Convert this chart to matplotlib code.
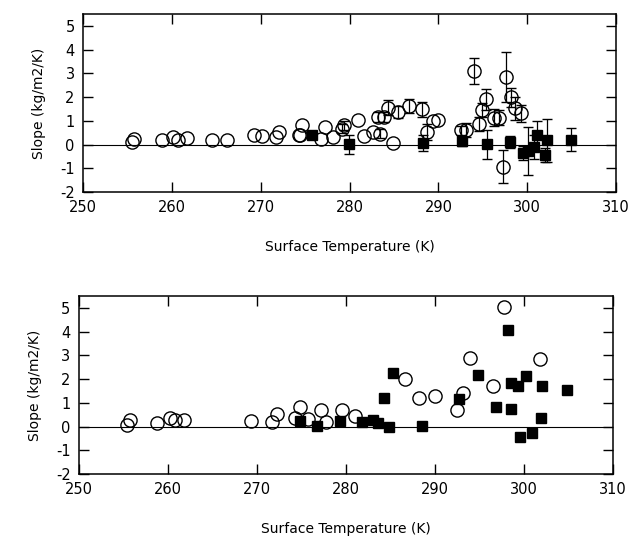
import matplotlib.pyplot as plt

# Panel 1: slopes with error bars (nan = bar hidden inside the marker)
nan = float('nan')
top_open_temp = [255.5, 255.7, 258.9, 260.1, 260.7, 261.7, 264.5, 266.2, 269.2, 270.2,
                 271.7, 272.1, 274.3, 274.4, 274.6, 276.8, 277.2, 278.1, 279.1, 279.4,
                 280.9, 281.6, 282.6, 283.4, 283.2, 283.9, 284.3, 284.9, 285.4, 286.7,
                 288.2, 288.7, 289.4, 290.0, 292.5, 293.1, 294.0, 294.6, 294.9, 295.4,
                 296.2, 296.8, 297.3, 297.6, 298.2, 298.6, 299.3]
top_open_slope = [0.11, 0.25, 0.21, 0.32, 0.21, 0.28, 0.21, 0.21, 0.39, 0.35,
                  0.32, 0.53, 0.39, 0.42, 0.81, 0.25, 0.74, 0.30, 0.67, 0.81,
                  1.03, 0.35, 0.53, 0.46, 1.17, 1.17, 1.56, 0.07, 1.38, 1.62,
                  1.48, 0.53, 1.00, 1.03, 0.60, 0.60, 3.10, 0.86, 1.45, 1.90,
                  1.14, 1.14, -0.94, 2.83, 2.00, 1.52, 1.31]
top_open_err = [nan, nan, nan, nan, nan, nan, nan, nan, nan, nan,
                nan, nan, nan, nan, nan, nan, nan, nan, 0.20, 0.20,
                nan, nan, nan, 0.20, 0.20, 0.20, 0.30, nan, 0.25, 0.30,
                0.30, 0.35, nan, nan, 0.20, 0.30, 0.55, 0.30, 0.30, 0.45,
                0.35, 0.30, 0.70, 1.05, 0.40, 0.50, 0.35]

top_fill_temp = [275.8, 279.9, 288.3, 292.7, 295.5, 298.1, 299.5, 300.1, 300.8, 301.1,
                 302.0, 302.2, 304.9]
top_fill_slope = [0.42, 0.01, 0.07, 0.15, 0.01, 0.11, -0.35, -0.27, -0.10, 0.39,
                  -0.45, 0.18, 0.21]
top_fill_err = [0.15, 0.40, 0.35, 0.20, 0.60, 0.25, 0.30, 1.00, 0.50, 0.60,
                0.30, 0.90, 0.50]

# Panel 2: slopes without error bars
bot_open_temp = [255.4, 255.7, 258.8, 260.2, 260.8, 261.8, 269.3, 271.7, 272.3, 274.3,
                 274.8, 275.8, 277.2, 277.8, 279.6, 281.0, 286.7, 288.2, 290.0, 292.5,
                 293.2, 294.0, 296.5, 297.8, 301.8]
bot_open_slope = [0.07, 0.28, 0.17, 0.35, 0.26, 0.26, 0.24, 0.20, 0.54, 0.35,
                  0.84, 0.30, 0.70, 0.20, 0.70, 0.46, 2.00, 1.20, 1.27, 0.68,
                  1.41, 2.89, 1.69, 5.04, 2.84]

bot_fill_temp = [274.9, 276.8, 279.4, 281.8, 283.1, 283.6, 284.9, 284.3, 285.3, 288.6,
                 292.7, 294.9, 296.9, 298.2, 298.6, 298.6, 299.3, 299.6, 300.3, 300.9,
                 302.1, 301.9, 304.9]
bot_fill_slope = [0.25, 0.03, 0.25, 0.21, 0.26, 0.14, -0.03, 1.20, 2.25, 0.04,
                  1.17, 2.18, 0.84, 4.05, 1.83, 0.73, 1.69, -0.46, 2.11, -0.28,
                  1.72, 0.34, 1.55]

x_ticks = [250, 260, 270, 280, 290, 300, 310]
y_ticks = [-2, -1, 0, 1, 2, 3, 4, 5]

plt.rcParams['font.family'] = 'DejaVu Sans'
plt.rcParams['axes.unicode_minus'] = False

fig = plt.figure(figsize=(6.31, 5.40), dpi=100)
ax1 = fig.add_axes([0.1315, 0.6444, 0.845, 0.3296])
ax2 = fig.add_axes([0.125, 0.1222, 0.846, 0.3296])


def style_axis(ax):
    ax.set_xlim(250, 310)
    ax.set_ylim(-2, 5.5)
    ax.set_xticks(x_ticks)
    ax.set_yticks(y_ticks)
    ax.tick_params(direction='in', top=True, right=True, length=7, width=1,
                   labelsize=10.5, pad=6)
    ax.axhline(0, color='black', lw=0.8, zorder=1)
    for s in ax.spines.values():
        s.set_linewidth(1.1)
    ax.set_xlabel('Surface Temperature (K)', fontsize=10, labelpad=18)
    ax.set_ylabel('Slope (kg/m2/K)', fontsize=10, labelpad=10)


ax1.errorbar(top_open_temp, top_open_slope, yerr=top_open_err, fmt='o',
             mfc='none', mec='black', ecolor='black', ms=9.5, mew=1.0,
             elinewidth=0.9, capsize=3.5, capthick=1.0, zorder=3)
ax1.errorbar(top_fill_temp, top_fill_slope, yerr=top_fill_err, fmt='s',
             mfc='black', mec='black', ecolor='black', ms=7, mew=1.0,
             elinewidth=0.9, capsize=3.5, capthick=1.0, zorder=4)
style_axis(ax1)

ax2.plot(bot_open_temp, bot_open_slope, 'o', mfc='none', mec='black',
         ms=9.5, mew=1.0, zorder=3)
ax2.plot(bot_fill_temp, bot_fill_slope, 's', mfc='black', mec='black',
         ms=7, mew=1.0, zorder=4)
style_axis(ax2)

fig.savefig('out.png', dpi=100)
